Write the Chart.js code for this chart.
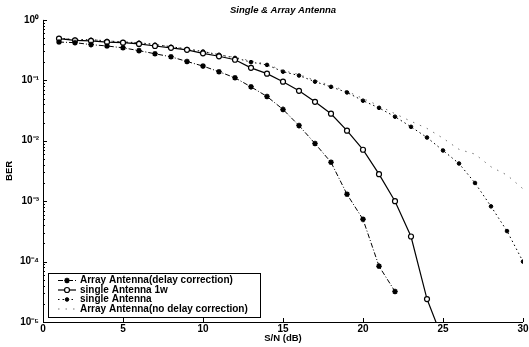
<!DOCTYPE html>
<html>
<head>
<meta charset="utf-8">
<script src="https://cdn.jsdelivr.net/npm/chart.js@4.4.1/dist/chart.umd.min.js"></script>
<style>
  html, body { margin: 0; padding: 0; background: #fff; }
</style>
</head>
<body>
<canvas id="berChart" width="529" height="347"></canvas>
<script>
// ── Data ────────────────────────────────────────────────────────────────────
const snrDb = [1, 2, 3, 4, 5, 6, 7, 8, 9, 10, 11, 12, 13, 14, 15,
               16, 17, 18, 19, 20, 21, 22, 23, 24, 25, 26, 27, 28, 29, 30];

const berArrayDelayCorr = [0.43, 0.42, 0.39, 0.37, 0.345, 0.31, 0.275, 0.245, 0.205, 0.172,
                           0.139, 0.11, 0.078, 0.054, 0.033, 0.0178, 0.009, 0.0044, 0.0013, 0.0005,
                           8.4e-5, 3.2e-5];

const berSingle1w = [0.49, 0.46, 0.45, 0.43, 0.42, 0.40, 0.37, 0.345, 0.32, 0.28,
                     0.25, 0.219, 0.161, 0.129, 0.095, 0.067, 0.044, 0.028, 0.0147, 0.0071,
                     0.0028, 0.001, 2.6e-4, 2.4e-5, 5e-6];

const berSingle = [0.50, 0.47, 0.47, 0.45, 0.43, 0.42, 0.39, 0.36, 0.33, 0.30,
                   0.265, 0.235, 0.20, 0.18, 0.139, 0.12, 0.095, 0.078, 0.063, 0.046,
                   0.035, 0.025, 0.017, 0.0113, 0.0069, 0.0042, 0.0020, 8.2e-4, 3.2e-4, 1.0e-4];

const berArrayNoCorr = [0.50, 0.47, 0.47, 0.45, 0.43, 0.42, 0.39, 0.36, 0.33, 0.30,
                        0.265, 0.24, 0.21, 0.185, 0.145, 0.125, 0.10, 0.082, 0.066, 0.05,
                        0.038, 0.028, 0.021, 0.016, 0.011, 0.0072, 0.0060, 0.0037, 0.0027, 0.0016];

const seriesNames = [
    'Array Antenna(delay correction)',
    'single Antenna 1w',
    'single Antenna',
    'Array Antenna(no delay correction)'
];

const yTickValues = [1e-5, 1e-4, 1e-3, 1e-2, 1e-1, 1];
const yTickLabels = ['10⁻⁵', '10⁻⁴', '10⁻³', '10⁻²', '10⁻¹', '10⁰'];
const xTickValues = [0, 5, 10, 15, 20, 25, 30];

// ── Helpers ─────────────────────────────────────────────────────────────────
const FONT = '"Liberation Sans", Arial, sans-serif';

function toPoints(ys) {
    return ys.map((y, i) => ({ x: snrDb[i], y }));
}

// inward MATLAB-style ticks + left/bottom axis lines
const matlabAxes = {
    id: 'matlabAxes',
    afterDraw(chart) {
        const { ctx, chartArea: a, scales: { x, y } } = chart;
        ctx.save();
        ctx.strokeStyle = '#000';
        ctx.lineWidth = 1;
        ctx.beginPath();
        ctx.moveTo(a.left + 0.5, a.top);
        ctx.lineTo(a.left + 0.5, a.bottom + 0.5);
        ctx.lineTo(a.right, a.bottom + 0.5);
        xTickValues.forEach(v => {
            const px = Math.round(x.getPixelForValue(v)) + 0.5;
            ctx.moveTo(px, a.bottom);
            ctx.lineTo(px, a.bottom - 4);
        });
        yTickValues.forEach((v, i) => {
            const py = Math.round(y.getPixelForValue(v)) + 0.5;
            ctx.moveTo(a.left, py);
            ctx.lineTo(a.left + 4, py);
            if (i < yTickValues.length - 1) {
                for (let m = 2; m < 10; m++) {
                    const pm = Math.round(y.getPixelForValue(v * m)) + 0.5;
                    ctx.moveTo(a.left, pm);
                    ctx.lineTo(a.left + 2, pm);
                }
            }
        });
        ctx.stroke();
        ctx.restore();
    }
};

// legend box inside the lower-left corner of the plot
const innerLegend = {
    id: 'innerLegend',
    afterDatasetsDraw(chart) {
        const { ctx, chartArea: a } = chart;
        const boxL = a.left + 5, boxW = 212, boxH = 44;
        const boxT = a.bottom - 5 - boxH;
        ctx.save();
        ctx.fillStyle = '#fff';
        ctx.fillRect(boxL, boxT, boxW, boxH);
        ctx.strokeStyle = '#000';
        ctx.lineWidth = 1;
        ctx.strokeRect(boxL + 0.5, boxT + 0.5, boxW, boxH);
        ctx.font = 'bold 10px ' + FONT;
        ctx.textBaseline = 'middle';
        chart.data.datasets.forEach((ds, i) => {
            const cy = boxT + 7.5 + i * 9.5;
            ctx.strokeStyle = ds.borderColor;
            ctx.lineWidth = ds.borderWidth;
            ctx.setLineDash(ds.borderDash || []);
            ctx.beginPath();
            ctx.moveTo(boxL + 10, cy);
            ctx.lineTo(boxL + 28, cy);
            ctx.stroke();
            ctx.setLineDash([]);
            if (ds.pointRadius > 0) {
                ctx.fillStyle = ds.pointBackgroundColor;
                ctx.strokeStyle = ds.pointBorderColor;
                ctx.lineWidth = ds.pointBorderWidth;
                Chart.helpers.drawPoint(ctx, {
                    pointStyle: ds.pointStyle,
                    radius: ds.pointRadius,
                    borderWidth: ds.pointBorderWidth
                }, boxL + 19, cy);
            }
            ctx.fillStyle = '#000';
            ctx.fillText(seriesNames[i], boxL + 32, cy);
        });
        ctx.restore();
    }
};

// ── Chart ───────────────────────────────────────────────────────────────────
new Chart(document.getElementById('berChart'), {
    type: 'line',
    data: {
        datasets: [
            {
                label: seriesNames[0], data: toPoints(berArrayDelayCorr),
                borderColor: '#000', borderWidth: 1, borderDash: [5, 2, 1, 2],
                pointStyle: 'star', pointRadius: 2.8, pointBorderWidth: 1.5,
                pointBackgroundColor: '#000', pointBorderColor: '#000'
            },
            {
                label: seriesNames[1], data: toPoints(berSingle1w),
                borderColor: '#000', borderWidth: 1.2,
                pointStyle: 'circle', pointRadius: 2.5, pointBorderWidth: 1.2,
                pointBackgroundColor: '#fff', pointBorderColor: '#000'
            },
            {
                label: seriesNames[2], data: toPoints(berSingle),
                borderColor: '#000', borderWidth: 1, borderDash: [1.5, 3],
                pointStyle: 'circle', pointRadius: 1.8, pointBorderWidth: 1,
                pointBackgroundColor: '#000', pointBorderColor: '#000'
            },
            {
                label: seriesNames[3], data: toPoints(berArrayNoCorr),
                borderColor: '#777', borderWidth: 1, borderDash: [1.5, 6],
                pointStyle: 'circle', pointRadius: 0, pointBorderWidth: 0,
                pointBackgroundColor: '#777', pointBorderColor: '#777'
            }
        ]
    },
    options: {
        responsive: false,
        animation: false,
        layout: { padding: { left: 0, right: 6, top: 0, bottom: 0 } },
        plugins: {
            legend: { display: false },
            tooltip: { enabled: false },
            title: {
                display: true,
                text: 'Single & Array Antenna',
                fullSize: false,
                color: '#000',
                font: { family: FONT, size: 9.5, weight: 'bold', style: 'italic', lineHeight: 1.2 },
                padding: { top: 4.5, bottom: 4 }
            }
        },
        scales: {
            x: {
                type: 'linear', min: 0, max: 30,
                grid: { display: false, drawTicks: false },
                border: { display: false },
                ticks: {
                    stepSize: 5, padding: 1, color: '#000', maxRotation: 0,
                    font: { family: FONT, size: 10, weight: 'bold' }
                },
                title: {
                    display: true, text: 'S/N (dB)', color: '#000',
                    font: { family: FONT, size: 9.5, weight: 'bold', lineHeight: 1.2 },
                    padding: { top: 0, bottom: 3 }
                },
                afterFit(scale) {
                    scale.height = 25;
                    scale.paddingLeft = 0;
                    scale.paddingRight = 0;
                }
            },
            y: {
                type: 'logarithmic', min: 1e-5, max: 1,
                grid: { display: false, drawTicks: false },
                border: { display: false },
                afterBuildTicks(scale) {
                    scale.ticks = yTickValues.map(v => ({ value: v }));
                },
                ticks: {
                    padding: 4, color: '#000',
                    font: { family: FONT, size: 10, weight: 'bold' },
                    callback: v => yTickLabels[yTickValues.findIndex(t => Math.abs(t - v) / t < 1e-6)] || ''
                },
                title: {
                    display: true, text: 'BER', color: '#000',
                    font: { family: FONT, size: 9.5, weight: 'bold', lineHeight: 1.2 },
                    padding: { top: 4, bottom: 0 }
                },
                afterFit(scale) {
                    scale.width = 43;
                    scale.paddingTop = 0;
                    scale.paddingBottom = 0;
                }
            }
        }
    },
    plugins: [matlabAxes, innerLegend]
});
</script>
</body>
</html>
